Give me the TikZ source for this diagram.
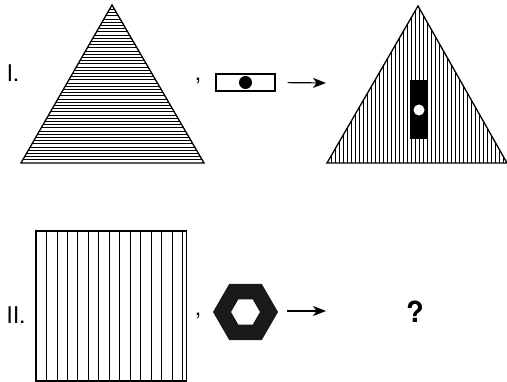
\documentclass[tikz,border=0pt]{standalone}
\usepackage{fontspec}
\setmainfont{TeX Gyre Heros}
\usetikzlibrary{arrows.meta}
\tikzset{
  outl/.style={line width=1.3pt, line join=miter},
  hatch/.style={line width=0.7pt},
  arr/.style={-{Stealth[length=13pt, width=10pt, inset=3.5pt]}, line width=1.2pt},
  lbl/.style={font=\fontsize{23}{23}\selectfont, inner sep=0pt},
  cma/.style={font=\fontsize{23}{23}\selectfont, inner sep=0pt},
}
\begin{document}
\begin{tikzpicture}[x=1pt, y=-1pt]
  \useasboundingbox (0,0) rectangle (507,382);

  % --- row I ---
  \node[lbl] (rowI) at (13,73) {I.};
  % triangle with horizontal hatch
  \coordinate (ta) at (112,5);
  \coordinate (tl) at (21,163);
  \coordinate (tr) at (204,163);
  \begin{scope}
    \clip (ta) -- (tl) -- (tr) -- cycle;
    \foreach \k in {0,...,50}
      \draw[hatch] (15,163-3.2*\k) -- (210,163-3.2*\k);
  \end{scope}
  \draw[outl] (ta) -- (tl) -- (tr) -- cycle;

  \node[cma] (c1) at (198,81) {,};
  \node[draw, line width=1.3pt, minimum width=59pt, minimum height=17pt,
        inner sep=0pt] (key1) at (245.5,82.5) {};
  \fill (key1.center) circle (6.5);
  \coordinate (a1) at (326,83);
  \draw[arr, shorten <=12pt] (key1.east) -- (a1);

  % result triangle with vertical hatch
  \coordinate (ra) at (418,6);
  \coordinate (rl) at (327,163);
  \coordinate (rr) at (507,163);
  \begin{scope}
    \clip (ra) -- (rl) -- (rr) -- cycle;
    \foreach \k in {0,...,46}
      \draw[hatch] (327+4*\k,0) -- (327+4*\k,170);
  \end{scope}
  \draw[outl] (ra) -- (rl) -- (rr) -- cycle;
  \fill (410,80) rectangle (428,139);
  \fill[white] (419,110) circle (5.5);

  % --- row II ---
  \node[lbl] (rowII) at (16,315) {II.};
  \foreach \k in {1,...,14}
    \draw[hatch] (36+10.45*\k,231) -- (36+10.45*\k,381);
  \draw[outl] (36,231) rectangle (186.7,381);

  \node[cma] (c2) at (198,316) {,};
  \fill[even odd rule, black!90]
    (245.5,312) +(0:32.5) -- +(60:32.5) -- +(120:32.5) -- +(180:32.5)
      -- +(240:32.5) -- +(300:32.5) -- cycle
    (245.5,312) +(0:14.5) -- +(60:14.5) -- +(120:14.5) -- +(180:14.5)
      -- +(240:14.5) -- +(300:14.5) -- cycle;
  \coordinate (h2) at (278,311);
  \coordinate (a2) at (326,311);
  \draw[arr, shorten <=9pt] (h2) -- (a2);
  \node[font=\fontsize{29}{29}\selectfont\bfseries, inner sep=0pt] (qm) at (415,312) {?};
\end{tikzpicture}
\end{document}
